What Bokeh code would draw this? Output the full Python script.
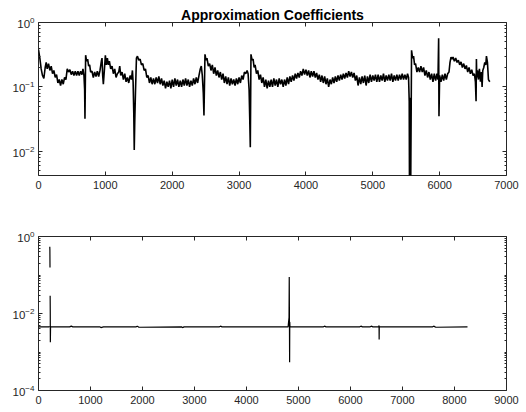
from bokeh.plotting import figure
from bokeh.layouts import column
from bokeh.models import FixedTicker, LinearAxis, Range1d, LogTickFormatter, BasicTickFormatter
from bokeh.embed import file_html
from bokeh.resources import INLINE

# ---------------- data ----------------
top_x = [0, 20, 40, 60, 80, 100, 115, 130, 150, 170,
         190, 210, 230, 250, 270, 290, 310, 330, 350, 370,
         390, 410, 430, 450, 470, 490, 510, 530, 550, 570,
         590, 610, 630, 650, 665, 680, 690, 695, 705, 720,
         735, 750, 765, 780, 800, 820, 840, 860, 880, 900,
         920, 940, 950, 960, 970, 985, 1000, 1015, 1030, 1045,
         1060, 1080, 1100, 1120, 1140, 1160, 1180, 1200, 1215, 1230,
         1250, 1270, 1290, 1310, 1330, 1350, 1370, 1390, 1405, 1415,
         1425, 1432, 1440, 1450, 1465, 1480, 1500, 1520, 1540, 1560,
         1580, 1600, 1620, 1640, 1660, 1680, 1700, 1720, 1740, 1760,
         1780, 1800, 1820, 1840, 1860, 1880, 1900, 1920, 1940, 1960,
         1980, 2000, 2020, 2040, 2060, 2080, 2100, 2120, 2140, 2160,
         2180, 2200, 2220, 2240, 2260, 2280, 2300, 2320, 2340, 2360,
         2380, 2400, 2420, 2435, 2450, 2465, 2475, 2490, 2505, 2520,
         2540, 2560, 2580, 2600, 2620, 2640, 2660, 2680, 2700, 2720,
         2740, 2760, 2780, 2800, 2820, 2840, 2860, 2880, 2900, 2920,
         2940, 2960, 2980, 3000, 3020, 3040, 3060, 3080, 3100, 3120,
         3135, 3150, 3160, 3168, 3178, 3195, 3210, 3225, 3240, 3260,
         3280, 3300, 3320, 3340, 3360, 3380, 3400, 3420, 3440, 3460,
         3480, 3500, 3520, 3540, 3560, 3580, 3600, 3620, 3640, 3660,
         3680, 3700, 3720, 3740, 3760, 3780, 3800, 3820, 3840, 3860,
         3880, 3900, 3920, 3940, 3960, 3980, 4000, 4020, 4040, 4060,
         4080, 4100, 4120, 4140, 4160, 4180, 4200, 4220, 4240, 4260,
         4280, 4300, 4320, 4340, 4360, 4380, 4400, 4420, 4440, 4460,
         4480, 4500, 4520, 4540, 4560, 4580, 4600, 4620, 4640, 4660,
         4680, 4700, 4720, 4740, 4760, 4780, 4800, 4820, 4840, 4860,
         4880, 4900, 4920, 4940, 4960, 4980, 5000, 5020, 5040, 5060,
         5080, 5100, 5120, 5140, 5160, 5180, 5200, 5220, 5240, 5260,
         5280, 5300, 5320, 5340, 5360, 5380, 5400, 5420, 5440, 5460,
         5480, 5500, 5520, 5535, 5545, 5550, 5555, 5560, 5565, 5570,
         5580, 5595, 5610, 5625, 5640, 5660, 5680, 5700, 5720, 5740,
         5760, 5780, 5800, 5820, 5840, 5860, 5880, 5900, 5920, 5940,
         5960, 5975, 5985, 5990, 6000, 6020, 6040, 6060, 6080, 6100,
         6120, 6140, 6155, 6170, 6185, 6200, 6220, 6240, 6260, 6280,
         6300, 6320, 6340, 6360, 6380, 6400, 6420, 6440, 6460, 6480,
         6500, 6520, 6535, 6545, 6550, 6555, 6565, 6580, 6595, 6610,
         6625, 6635, 6645, 6660, 6675, 6690, 6700, 6715, 6730, 6750]
top_y = [0.38, 0.28, 0.19, 0.15, 0.135, 0.20, 0.24, 0.19, 0.23, 0.18,
         0.21, 0.16, 0.18, 0.14, 0.155, 0.115, 0.13, 0.105, 0.13, 0.11,
         0.14, 0.13, 0.19, 0.17, 0.185, 0.155, 0.175, 0.15, 0.175, 0.15,
         0.175, 0.15, 0.175, 0.155, 0.19, 0.15, 0.09, 0.032, 0.31, 0.25,
         0.27, 0.21, 0.22, 0.17, 0.175, 0.14, 0.17, 0.145, 0.175, 0.145,
         0.18, 0.25, 0.28, 0.15, 0.11, 0.18, 0.31, 0.22, 0.28, 0.22,
         0.25, 0.19, 0.21, 0.16, 0.19, 0.14, 0.16, 0.17, 0.21, 0.15,
         0.17, 0.13, 0.16, 0.12, 0.14, 0.115, 0.15, 0.13, 0.18, 0.12,
         0.04, 0.0105, 0.03, 0.08, 0.28, 0.30, 0.26, 0.27, 0.22, 0.23,
         0.18, 0.19, 0.14, 0.15, 0.115, 0.14, 0.11, 0.135, 0.11, 0.14,
         0.115, 0.145, 0.11, 0.135, 0.105, 0.125, 0.095, 0.12, 0.10, 0.125,
         0.095, 0.13, 0.10, 0.135, 0.105, 0.13, 0.10, 0.125, 0.10, 0.13,
         0.105, 0.135, 0.105, 0.13, 0.10, 0.125, 0.105, 0.135, 0.11, 0.14,
         0.115, 0.15, 0.19, 0.21, 0.15, 0.08, 0.036, 0.32, 0.26, 0.28,
         0.21, 0.23, 0.18, 0.22, 0.16, 0.20, 0.15, 0.18, 0.14, 0.17,
         0.13, 0.16, 0.115, 0.145, 0.11, 0.14, 0.105, 0.135, 0.11, 0.13,
         0.105, 0.135, 0.11, 0.14, 0.115, 0.15, 0.13, 0.17, 0.16, 0.18,
         0.16, 0.09, 0.03, 0.0115, 0.32, 0.26, 0.27, 0.20, 0.22, 0.16,
         0.18, 0.13, 0.155, 0.115, 0.14, 0.10, 0.13, 0.095, 0.125, 0.10,
         0.13, 0.10, 0.135, 0.105, 0.13, 0.10, 0.135, 0.11, 0.13, 0.10,
         0.13, 0.105, 0.14, 0.11, 0.145, 0.12, 0.15, 0.125, 0.16, 0.135,
         0.165, 0.14, 0.175, 0.15, 0.19, 0.155, 0.185, 0.15, 0.18, 0.14,
         0.175, 0.145, 0.175, 0.14, 0.165, 0.13, 0.155, 0.12, 0.15, 0.115,
         0.145, 0.11, 0.135, 0.10, 0.13, 0.11, 0.14, 0.115, 0.145, 0.12,
         0.15, 0.125, 0.155, 0.13, 0.16, 0.135, 0.165, 0.14, 0.175, 0.145,
         0.17, 0.14, 0.165, 0.125, 0.15, 0.105, 0.14, 0.11, 0.145, 0.115,
         0.15, 0.105, 0.145, 0.115, 0.155, 0.12, 0.15, 0.125, 0.155, 0.12,
         0.155, 0.12, 0.15, 0.125, 0.16, 0.12, 0.15, 0.125, 0.155, 0.125,
         0.16, 0.12, 0.15, 0.125, 0.155, 0.125, 0.155, 0.13, 0.16, 0.13,
         0.155, 0.13, 0.16, 0.14, 0.06, 0.001, 0.0085, 0.068, 0.001, 0.009,
         0.37, 0.28, 0.30, 0.22, 0.23, 0.17, 0.20, 0.17, 0.21, 0.17,
         0.20, 0.15, 0.18, 0.14, 0.17, 0.13, 0.16, 0.12, 0.16, 0.125,
         0.16, 0.13, 0.57, 0.035, 0.15, 0.12, 0.155, 0.125, 0.16, 0.13,
         0.16, 0.17, 0.24, 0.29, 0.27, 0.29, 0.25, 0.28, 0.24, 0.26,
         0.22, 0.245, 0.20, 0.23, 0.19, 0.215, 0.17, 0.20, 0.16, 0.185,
         0.15, 0.16, 0.12, 0.06, 0.27, 0.14, 0.18, 0.13, 0.19, 0.12,
         0.17, 0.10, 0.18, 0.20, 0.24, 0.22, 0.30, 0.24, 0.13, 0.12]

nan = float("nan")
bot_x = [0, 200, 212, 216, 217, 219, 221, 223, 224, 226, 228, 232, 240, 600, 630, 660, 1180, 1200, 1250,
         1880, 1900, 1930, 2750, 2770, 2800, 3480, 3500, 3530, 4800, 4818, 4822, 4826, 4829, 4832, 4836,
         4845, 5480, 5500, 5530, 6180, 6200, 6230, 6380, 6400, 6430, 6545, 6549, 6551, 6553, 6557, 7580,
         7600, 7640, 8250]
bot_y = [0.0045, 0.0045, 0.0046, nan, 0.54, 0.45, 0.157, nan, 0.029, 0.012, 0.0018, 0.0045, 0.0045,
         0.0045, 0.0047, 0.0045, 0.0045, 0.0043, 0.0045, 0.0045, 0.0047, 0.0044, 0.0045, 0.0043, 0.0045,
         0.0045, 0.0047, 0.0045, 0.0045, 0.008, 0.089, 0.0055, 0.00054, 0.006, 0.0045, 0.0045, 0.0045,
         0.0047, 0.0045, 0.0045, 0.0047, 0.0045, 0.0045, 0.0047, 0.0045, 0.0045, 0.0049, 0.0021, 0.0045,
         0.0045, 0.0045, 0.0047, 0.0044, 0.0045]

top_xticks = [0, 1000, 2000, 3000, 4000, 5000, 6000, 7000]
bot_xticks = [0, 1000, 2000, 3000, 4000, 5000, 6000, 7000, 8000, 9000]
top_yticks = [1e-2, 1e-1, 1.0]
bot_yticks = [1e-4, 1e-2, 1.0]
top_yminor = [k * 10.0 ** n for n in (-3, -2, -1) for k in range(2, 10)]
bot_yminor = [k * 10.0 ** n for n in (-4, -3, -2, -1) for k in range(1, 10) if not (k == 1 and n in (-4, -2))]

AX = "#262626"
FONT = "Liberation Sans"


def style(p, xticks, yticks, yminor):
    xt = FixedTicker(ticks=xticks)
    yt = FixedTicker(ticks=yticks, minor_ticks=yminor)
    for ax in p.xaxis:
        ax.ticker = xt
    for ax in p.yaxis:
        ax.ticker = yt
        ax.formatter = LogTickFormatter()
    top = LinearAxis(ticker=xt, major_label_text_font_size="1px", major_label_text_alpha=0.0,
                     major_label_standoff=0)
    right = LinearAxis(ticker=yt, formatter=BasicTickFormatter(), major_label_text_font_size="1px",
                       major_label_text_alpha=0.0, major_label_standoff=0)
    p.add_layout(top, "above")
    p.add_layout(right, "right")
    for ax in p.axis:
        ax.axis_line_color = None
        ax.major_tick_line_color = AX
        ax.minor_tick_line_color = AX
        ax.major_tick_in = 4
        ax.major_tick_out = 0
        ax.minor_tick_in = 2
        ax.minor_tick_out = 0
        ax.major_label_text_color = AX
        ax.major_label_text_font = FONT
    for ax in p.xaxis:
        ax.minor_tick_in = 0
        ax.minor_tick_out = 0
    p.xaxis[0].major_label_text_font_size = "11.5px"
    p.xaxis[0].major_label_standoff = 8
    p.yaxis[0].major_label_text_font_size = "11.5px"
    p.yaxis[0].major_label_standoff = 4
    p.grid.visible = False
    p.outline_line_color = AX
    p.outline_line_alpha = 1.0
    p.outline_line_width = 1
    p.background_fill_color = "white"
    p.border_fill_color = "white"


p1 = figure(width=526, height=200, y_axis_type="log",
            x_range=Range1d(0, 7000), y_range=Range1d(0.0042, 1.0),
            output_backend="svg", toolbar_location=None,
            min_border_left=38, min_border_right=20, min_border_top=22, min_border_bottom=25)
p1.line(top_x, top_y, line_color="black", line_width=1.6)
style(p1, top_xticks, top_yticks, top_yminor)
p1.title.text = "Approximation Coefficients"
p1.title.align = "center"
p1.title.text_font = FONT
p1.title.text_font_size = "14px"
p1.title.text_font_style = "bold"
p1.title.text_color = "black"
p1.title.standoff = 0
p1.title.offset = 0

p2 = figure(width=526, height=212, y_axis_type="log",
            x_range=Range1d(0, 9000), y_range=Range1d(1e-4, 1.0),
            output_backend="svg", toolbar_location=None,
            min_border_left=38, min_border_right=20, min_border_top=36, min_border_bottom=22)
p2.line(bot_x, bot_y, line_color="black", line_width=1.2)
style(p2, bot_xticks, bot_yticks, bot_yminor)

layout = column(p1, p2, spacing=0)
open("out.html", "w").write(file_html(layout, INLINE))
